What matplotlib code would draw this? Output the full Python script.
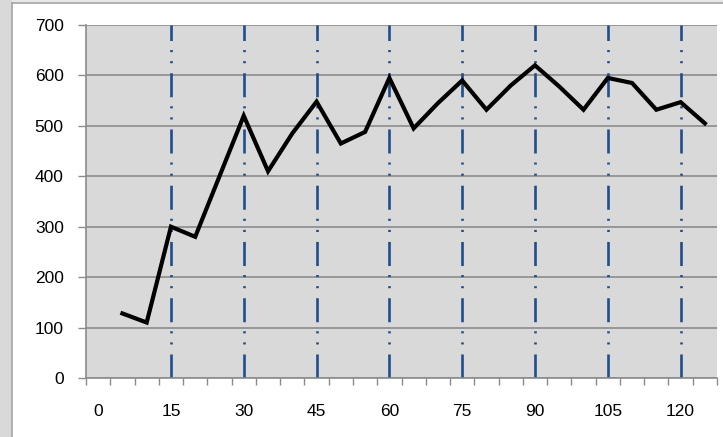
import matplotlib as mpl
import matplotlib.pyplot as plt
from matplotlib.patches import Rectangle
from matplotlib.lines import Line2D

mpl.rcParams['font.family'] = ['Liberation Sans', 'DejaVu Sans']
mpl.rcParams['lines.scale_dashes'] = False

# data
minutes = [5, 10, 15, 20, 25, 30, 35, 40, 45, 50, 55, 60, 65, 70, 75, 80,
           85, 90, 95, 100, 105, 110, 115, 120, 125]
values = [128, 110, 300, 280, 400, 520, 410, 485, 548, 465, 488, 595, 495,
          545, 590, 532, 580, 620, 578, 532, 595, 585, 532, 547, 505]
marks = [15, 30, 45, 60, 75, 90, 105, 120]
xlabels = [0, 15, 30, 45, 60, 75, 90, 105, 120]
ylabels = [0, 100, 200, 300, 400, 500, 600, 700]

W, H = 723, 437
fig = plt.figure(figsize=(W / 100, H / 100), dpi=100)
fig.patch.set_facecolor('white')

# outer frame bits of the original screenshot
fig.patches.append(Rectangle((0, 0), 12 / W, 1, transform=fig.transFigure,
                             facecolor='#d9d9d9', edgecolor='none', zorder=0))
fig.patches.append(Rectangle((12 / W, 1 - 3 / H), 1, 3 / H, transform=fig.transFigure,
                             facecolor='#e6e6e6', edgecolor='none', zorder=0))
fig.lines.append(Line2D([12 / W, 12 / W], [0, 1 - 3 / H], transform=fig.transFigure,
                        color='#a6a6a6', lw=1.2))
fig.lines.append(Line2D([12 / W, 1], [1 - 3 / H, 1 - 3 / H], transform=fig.transFigure,
                        color='#a6a6a6', lw=1.2))

ax = fig.add_axes([86 / W, (H - 378) / H, (717 - 86) / W, (378 - 25) / H])
ax.set_facecolor('#d9d9d9')

for m in marks:
    ax.axvline(m, color='#1f4e8c', lw=1.9, dashes=(17.3, 7.2, 1.5, 6.5, 1.5, 6.5),
               zorder=2)

ax.plot(minutes, values, color='black', lw=3.0, solid_joinstyle='miter', zorder=3)

ax.set_xlim(-2.5, 127.5)
ax.set_ylim(0, 700)

ax.set_yticks(ylabels)
ax.set_yticklabels([str(v) for v in ylabels])
ax.yaxis.grid(True, color='#8c8c8c', lw=1.2)
ax.set_axisbelow(True)

ax.set_xticks([-2.5 + 5 * i for i in range(27)])
ax.set_xticklabels([])
ax.set_xticks(xlabels, minor=True)
ax.set_xticklabels([str(v) for v in xlabels], minor=True)

ax.tick_params(axis='x', which='major', direction='out', length=5, width=1,
               color='#8c8c8c')
ax.tick_params(axis='x', which='minor', length=0, pad=18.5, labelsize=12.5)
ax.tick_params(axis='y', direction='out', length=6, width=1, color='#8c8c8c',
               pad=10, labelsize=12.5)

for s in ['top', 'right']:
    ax.spines[s].set_visible(False)
for s in ['left', 'bottom']:
    ax.spines[s].set_color('#8c8c8c')
    ax.spines[s].set_linewidth(1.2)

fig.savefig('out.png', dpi=100)
